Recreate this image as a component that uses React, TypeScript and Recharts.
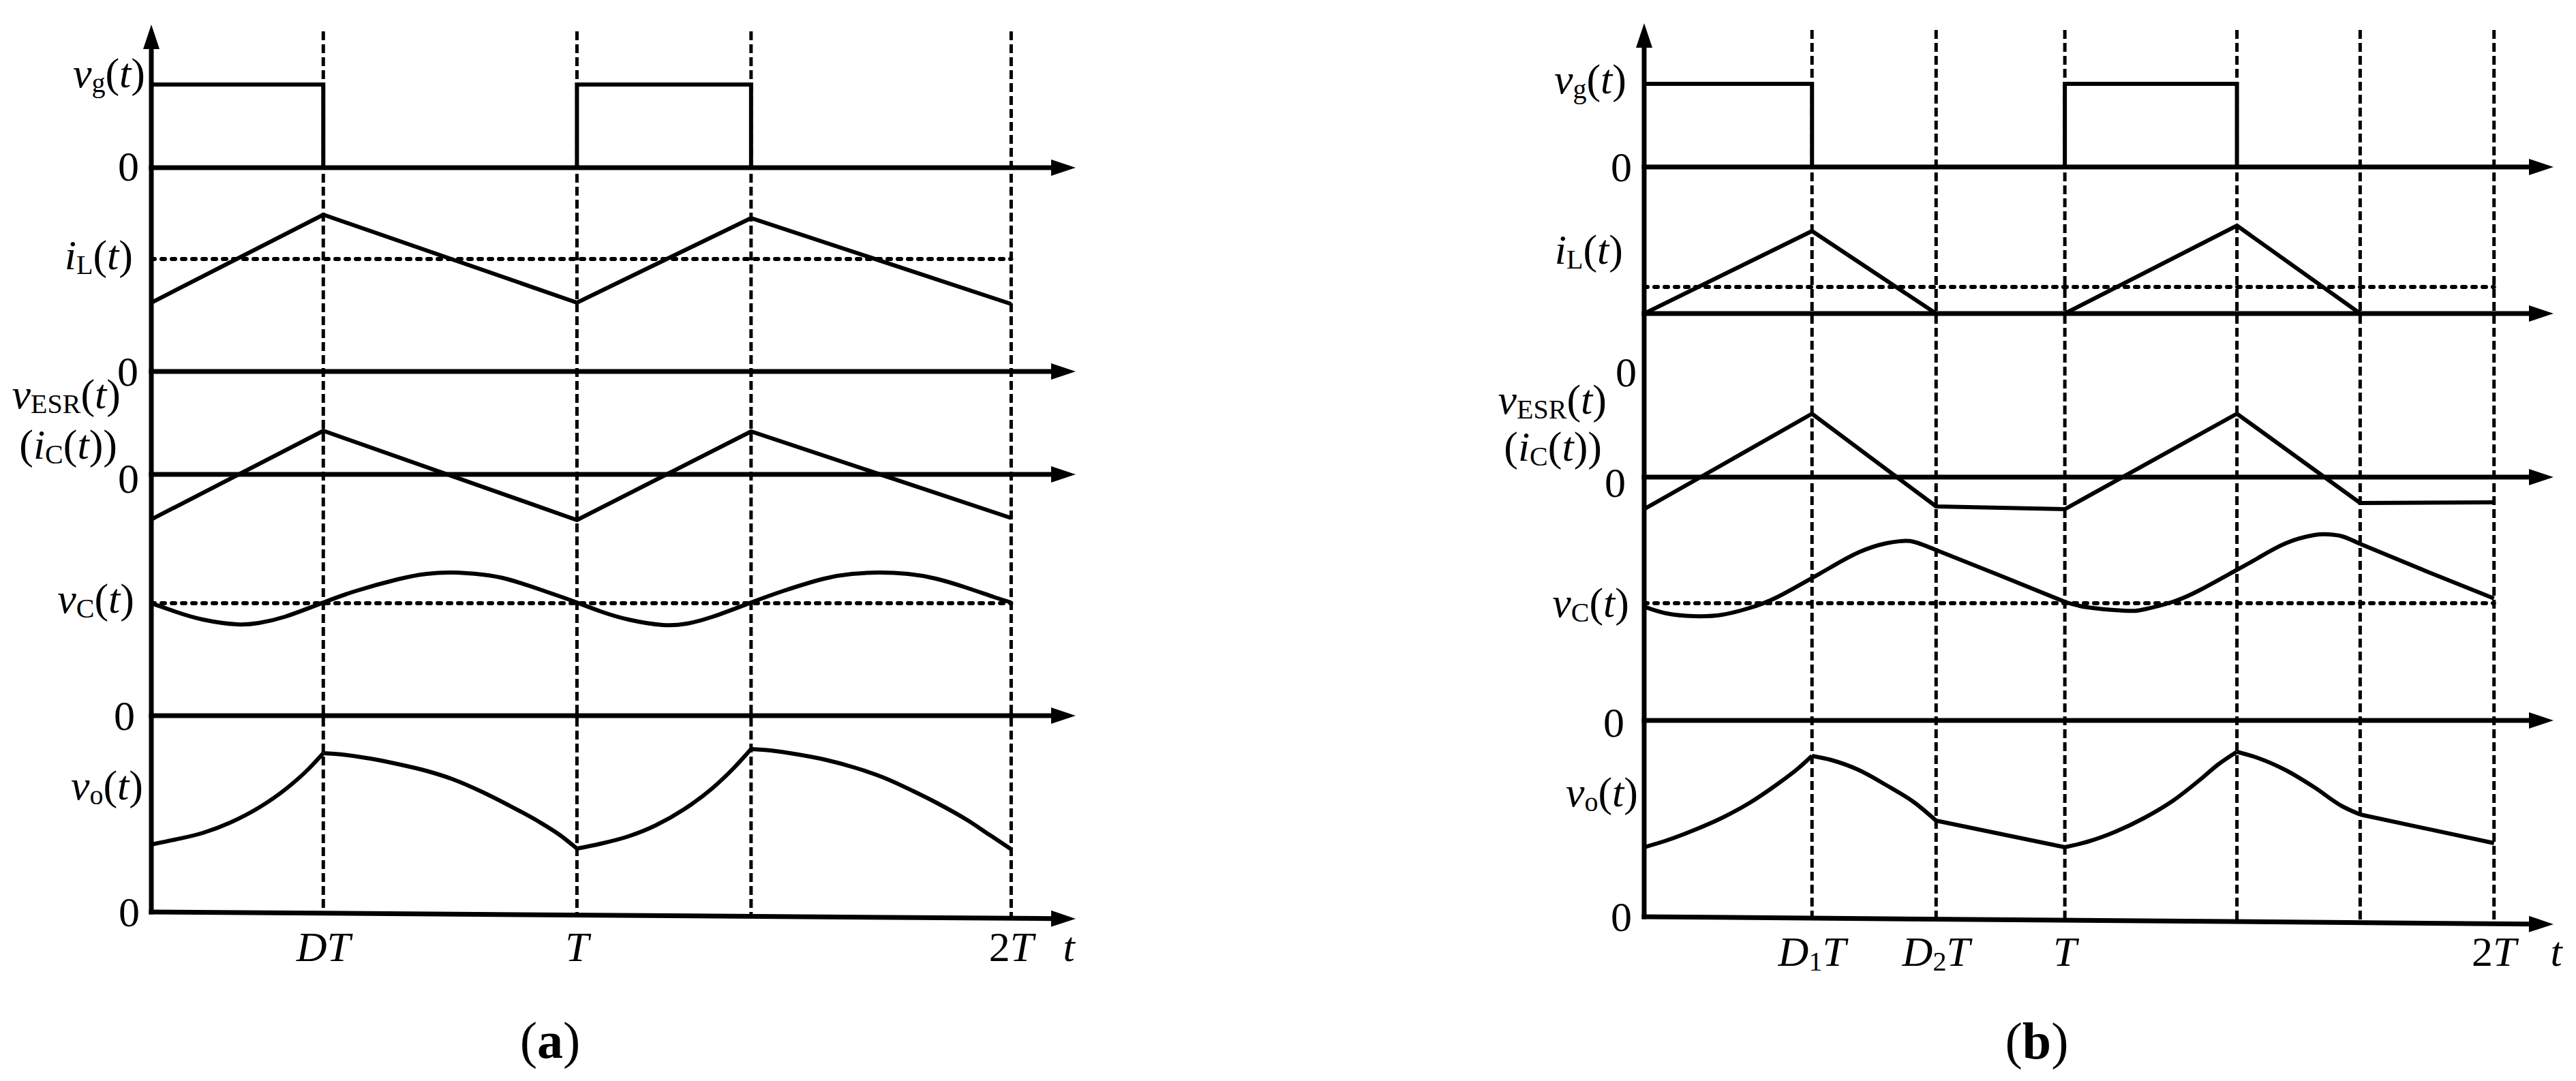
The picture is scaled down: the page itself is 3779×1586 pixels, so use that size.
import React from 'react';
import { ComposedChart, Line, XAxis, YAxis, ReferenceLine } from 'recharts';

type Pt = [number, number];

// time is in units of the switching period T; every waveform value is read
// from its own zero axis (1 unit = 100 px of the original drawing)

// ---------- (a) ----------
const timeTicksA = [0.4, 0.99, 2, 2.15];
const timeLabelsA = ['DT', 'T', '2T', 't'];
const edgesA = [0.4, 0.99, 1.395, 2];

const vgA: Pt[] = [[0, 1.22], [0.4, 1.22], [0.4, 0], [0.99, 0], [0.99, 1.22], [1.395, 1.22], [1.395, 0]];
const iLA: Pt[] = [[0, 1.01], [0.4, 2.3], [0.99, 1.01], [1.395, 2.25], [2, 0.99]];
const iLAvgA = 1.65;
const vEsrA: Pt[] = [[0, -0.66], [0.4, 0.64], [0.99, -0.67], [1.395, 0.63], [2, -0.64]];
const vCA: Pt[] = [
  [0, 1.65], [0.054, 1.53], [0.12, 1.41], [0.2, 1.34], [0.25, 1.36], [0.31, 1.45], [0.4, 1.66],
  [0.476, 1.83], [0.573, 2.0], [0.64, 2.08], [0.7, 2.1], [0.77, 2.07], [0.83, 2.0], [0.9, 1.86],
  [0.955, 1.74], [0.99, 1.66], [1.045, 1.53], [1.11, 1.41], [1.19, 1.33], [1.245, 1.35], [1.305, 1.45],
  [1.395, 1.66], [1.47, 1.83], [1.565, 2.01], [1.63, 2.08], [1.69, 2.1], [1.76, 2.08], [1.825, 2.01],
  [1.895, 1.88], [1.96, 1.74], [2, 1.66],
];
const vCAvgA = 1.65;
const voA: Pt[] = [
  [0, 0.99], [0.054, 1.06], [0.12, 1.16], [0.183, 1.31], [0.25, 1.53], [0.314, 1.81], [0.366, 2.1],
  [0.4, 2.33], [0.444, 2.31], [0.51, 2.25], [0.573, 2.17], [0.64, 2.07], [0.7, 1.95], [0.77, 1.76],
  [0.83, 1.57], [0.9, 1.33], [0.95, 1.13], [0.99, 0.93], [1.044, 1.0], [1.11, 1.11], [1.173, 1.27],
  [1.24, 1.51], [1.304, 1.81], [1.356, 2.12], [1.395, 2.39], [1.44, 2.37], [1.505, 2.31], [1.57, 2.23],
  [1.635, 2.12], [1.7, 1.98], [1.77, 1.78], [1.83, 1.59], [1.9, 1.34], [1.95, 1.13], [2, 0.92],
];

// ---------- (b) ----------
const timeTicksB = [0.395, 0.687, 0.99, 2, 2.14];
const timeLabelsB = ['D_{1}T', 'D_{2}T', 'T', '2T', 't'];
const edgesB = [0.395, 0.687, 0.99, 1.395, 1.685, 2];

const vgB: Pt[] = [[0, 1.22], [0.395, 1.22], [0.395, 0], [0.99, 0], [0.99, 1.22], [1.395, 1.22], [1.395, 0]];
const iLB: Pt[] = [[0, 0], [0.395, 1.21], [0.687, 0], [0.99, 0], [1.395, 1.29], [1.685, 0], [2, 0]];
const iLAvgB = 0.39;
const vEsrB: Pt[] = [[0, -0.47], [0.395, 0.93], [0.687, -0.43], [0.99, -0.47], [1.395, 0.93], [1.685, -0.38], [2, -0.37]];
const vCB: Pt[] = [
  [0, 1.67], [0.053, 1.57], [0.117, 1.53], [0.183, 1.55], [0.248, 1.65], [0.31, 1.8], [0.395, 2.09],
  [0.44, 2.25], [0.506, 2.47], [0.57, 2.6], [0.603, 2.63], [0.635, 2.62], [0.687, 2.5], [0.84, 2.12],
  [0.99, 1.74], [1.043, 1.66], [1.13, 1.61], [1.177, 1.63], [1.244, 1.74], [1.31, 1.92], [1.395, 2.21],
  [1.444, 2.38], [1.51, 2.6], [1.577, 2.72], [1.61, 2.73], [1.643, 2.7], [1.685, 2.59], [1.84, 2.19],
  [2, 1.79],
];
const vCAvgB = 1.72;
const voB: Pt[] = [
  [0, 1.02], [0.053, 1.12], [0.117, 1.27], [0.183, 1.45], [0.248, 1.67], [0.31, 1.93], [0.363, 2.18],
  [0.395, 2.36], [0.44, 2.3], [0.506, 2.15], [0.57, 1.93], [0.635, 1.68], [0.687, 1.41], [0.99, 1.02],
  [1.043, 1.1], [1.11, 1.25], [1.177, 1.45], [1.244, 1.7], [1.31, 2.02], [1.35, 2.23], [1.395, 2.42],
  [1.444, 2.33], [1.51, 2.15], [1.577, 1.9], [1.643, 1.62], [1.685, 1.5], [2, 1.08],
];

const avgSpan = [0, 2];

const names = {
  zero: '0',
  vg: 'v_{g}(t)',
  iL: 'i_{L}(t)',
  vEsr: 'v_{ESR}(t)',
  iC: '(i_{C}(t))',
  vC: 'v_{C}(t)',
  vo: 'v_{o}(t)',
};

// ---------- drawing ----------
const INK = '#000';
const FONT = '"Liberation Serif", "Times New Roman", Times, serif';
const FS = 62;
const SUB_FS = 40;
const SUB_SHIFT = 7;
const UNIT = 100;
const H = 1586;
const XAXIS_H = 100;
const ARROW_L = 36;
const ARROW_HW = 12;
const AXIS_W = 7;
const TRACE_W = 6;

type Curve = 'linear' | 'monotone' | 'natural';

interface LabelPos { text: string; dx: number; dy: number }
interface TraceCfg {
  id: string;
  zero: number;
  pts: Pt[];
  curve: Curve;
  kinks?: number[];
  avg?: number;
  drop?: number;
  labels: LabelPos[];
}
interface PanelCfg {
  left: number;
  width: number;
  plotLeft: number;
  plotRight: number;
  plotTop: number;
  plotBottom: number;
  dashTop: number;
  tEnd: number;
  ticks: number[];
  tickLabels: string[];
  tDx: number;
  edges: number[];
  caption: string;
  captionX: number;
  captionY: number;
  traces: TraceCfg[];
}

function parseMarkup(s: string) {
  const out: { text: string; italic: boolean; sub: boolean }[] = [];
  let i = 0;
  while (i < s.length) {
    if (s[i] === '_' && s[i + 1] === '{') {
      const j = s.indexOf('}', i);
      out.push({ text: s.slice(i + 2, j), italic: false, sub: true });
      i = j + 1;
    } else {
      out.push({ text: s[i], italic: /[A-Za-z]/.test(s[i]), sub: false });
      i++;
    }
  }
  return out;
}

function Rich({ x, y, markup, anchor }: { x: number; y: number; markup: string; anchor: 'start' | 'middle' | 'end' }) {
  const parts = parseMarkup(markup);
  let low = false;
  return (
    <text x={x} y={y} textAnchor={anchor} fontFamily={FONT} fontSize={FS} fill={INK}>
      {parts.map((p, i) => {
        let dy: number | undefined;
        if (p.sub && !low) {
          dy = SUB_SHIFT;
          low = true;
        } else if (!p.sub && low) {
          dy = -SUB_SHIFT;
          low = false;
        }
        return (
          <tspan key={i} dy={dy} fontStyle={p.italic ? 'italic' : 'normal'} fontSize={p.sub ? SUB_FS : FS}>
            {p.text}
          </tspan>
        );
      })}
    </text>
  );
}

function arrow(x1: number, y1: number, x2: number, y2: number, back = 0) {
  const a = Math.atan2(y2 - y1, x2 - x1);
  const c = Math.cos(a);
  const s = Math.sin(a);
  const bx = x2 - ARROW_L * c;
  const by = y2 - ARROW_L * s;
  return (
    <g>
      <line x1={x1 - back * c} y1={y1 - back * s} x2={bx + 2 * c} y2={by + 2 * s} stroke={INK} strokeWidth={AXIS_W} />
      <polygon
        points={`${x2},${y2} ${bx - ARROW_HW * s},${by + ARROW_HW * c} ${bx + ARROW_HW * s},${by - ARROW_HW * c}`}
        fill={INK}
      />
    </g>
  );
}

const HArrow = (p: any) =>
  p.x1 <= p.x2 ? arrow(p.x1, p.y1, p.x2, p.y2, AXIS_W / 2) : arrow(p.x2, p.y2, p.x1, p.y1, AXIS_W / 2);

const VArrow = (p: any) => {
  const bottom = Math.max(p.y1, p.y2);
  const top = Math.min(p.y1, p.y2);
  return arrow(p.x1, bottom, p.x1, top, AXIS_W / 2);
};

const makeDash = (top: number, bottom: number, drop: number, tEnd: number, t: number) => (p: any) => (
  <line
    x1={p.x1}
    x2={p.x1}
    y1={top}
    y2={bottom + (drop * UNIT * t) / tEnd + 2}
    stroke={INK}
    strokeWidth={5}
    strokeDasharray="13 6"
  />
);

const makeSignalTick = (labels: LabelPos[], xLeft: number) => (props: any) => (
  <g>
    {labels.map((l, i) => (
      <Rich
        key={i}
        x={xLeft + l.dx}
        y={props.y + l.dy + (/[()]/.test(l.text) ? 0.235 : 0.338) * FS}
        markup={l.text}
        anchor="end"
      />
    ))}
  </g>
);

const makeTimeTick = (ticks: number[], labels: string[], tDx: number) => (props: any) => {
  const v = props.payload.value;
  const i = ticks.findIndex((k) => Math.abs(k - v) < 1e-9);
  if (i < 0) return <g />;
  const last = i === ticks.length - 1;
  return <Rich x={props.x + (last ? tDx : 0)} y={props.y + 72} markup={labels[i]} anchor="middle" />;
};

const makeCaption = (letter: string, x: number, y: number) => () => (
  <text x={x} y={y} textAnchor="middle" fontFamily={FONT} fontSize={76} fill={INK}>
    <tspan>(</tspan>
    <tspan fontWeight="bold">{letter}</tspan>
    <tspan>)</tspan>
  </text>
);

const rows = (pts: Pt[]) => pts.map(([t, v]) => ({ t, v }));

// cut a waveform at its corners so each smooth piece is interpolated on its own
function splitAt(pts: Pt[], kinks: number[]): Pt[][] {
  const segs: Pt[][] = [];
  let cur: Pt[] = [];
  pts.forEach((p, i) => {
    cur.push(p);
    if (i > 0 && i < pts.length - 1 && kinks.some((k) => Math.abs(k - p[0]) < 1e-9)) {
      segs.push(cur);
      cur = [p];
    }
  });
  segs.push(cur);
  return segs;
}

function Panel({ cfg }: { cfg: PanelCfg }) {
  const localPlotLeft = cfg.plotLeft - cfg.left;
  const margin = {
    top: cfg.plotTop,
    left: localPlotLeft - cfg.traces.length,
    right: cfg.left + cfg.width - cfg.plotRight,
    bottom: H - cfg.plotBottom - XAXIS_H,
  };
  const first = cfg.traces[0].id;
  const bottomDrop = cfg.traces[cfg.traces.length - 1].drop ?? 0;
  return (
    <div style={{ position: 'absolute', left: cfg.left, top: 0 }}>
      <ComposedChart width={cfg.width} height={H} margin={margin}>
        <XAxis
          type="number"
          dataKey="t"
          domain={[0, cfg.tEnd]}
          allowDataOverflow
          ticks={cfg.ticks}
          interval={0}
          axisLine={false}
          tickLine={false}
          tickSize={0}
          tickMargin={0}
          height={XAXIS_H}
          tick={makeTimeTick(cfg.ticks, cfg.tickLabels, cfg.tDx)}
          label={{ content: makeCaption(cfg.caption, cfg.captionX - cfg.left, cfg.captionY) }}
        />
        {cfg.traces.map((tr) => (
          <YAxis
            key={tr.id}
            yAxisId={tr.id}
            type="number"
            domain={[-(cfg.plotBottom - tr.zero) / UNIT, (tr.zero - cfg.plotTop) / UNIT]}
            ticks={[0]}
            interval={0}
            width={1}
            axisLine={false}
            tickLine={false}
            tickSize={0}
            tickMargin={0}
            tick={makeSignalTick(tr.labels, localPlotLeft)}
          />
        ))}

        {cfg.edges.map((e) => (
          <ReferenceLine
            key={`edge-${e}`}
            x={e}
            yAxisId={first}
            ifOverflow="visible"
            shape={makeDash(cfg.dashTop, cfg.plotBottom, bottomDrop, cfg.tEnd, e)}
          />
        ))}

        <ReferenceLine x={0} yAxisId={first} ifOverflow="visible" shape={VArrow} />
        {cfg.traces.map((tr) => (
          <ReferenceLine
            key={`axis-${tr.id}`}
            yAxisId={tr.id}
            ifOverflow="visible"
            segment={[
              { x: 0, y: 0 },
              { x: cfg.tEnd, y: -(tr.drop ?? 0) },
            ]}
            shape={HArrow}
          />
        ))}

        {cfg.traces
          .filter((tr) => tr.avg !== undefined)
          .map((tr) => (
            <Line
              key={`avg-${tr.id}`}
              yAxisId={tr.id}
              data={avgSpan.map((t) => ({ t, v: tr.avg }))}
              dataKey="v"
              type="linear"
              stroke={INK}
              strokeWidth={6}
              strokeDasharray="5 10"
              strokeLinecap="round"
              dot={false}
              activeDot={false}
              isAnimationActive={false}
            />
          ))}

        {cfg.traces.flatMap((tr) =>
          splitAt(tr.pts, tr.kinks ?? []).map((seg, k) => (
            <Line
              key={`trace-${tr.id}-${k}`}
              yAxisId={tr.id}
              data={rows(seg)}
              dataKey="v"
              type={seg.length > 2 ? tr.curve : 'linear'}
              stroke={INK}
              strokeWidth={TRACE_W}
              strokeLinejoin="miter"
              dot={false}
              activeDot={false}
              isAnimationActive={false}
            />
          )),
        )}
      </ComposedChart>
    </div>
  );
}

const panelA: PanelCfg = {
  left: 0,
  width: 1890,
  plotLeft: 222,
  plotRight: 1578,
  plotTop: 36,
  plotBottom: 1338,
  dashTop: 46,
  tEnd: 2.15,
  ticks: timeTicksA,
  tickLabels: timeLabelsA,
  tDx: -10,
  edges: edgesA,
  caption: 'a',
  captionX: 807,
  captionY: 1552,
  traces: [
    { id: 'vg', zero: 246, pts: vgA, curve: 'linear', labels: [{ text: names.zero, dx: -18, dy: -2 }, { text: names.vg, dx: -9, dy: -133 }] },
    { id: 'iL', zero: 545, pts: iLA, curve: 'linear', avg: iLAvgA, labels: [{ text: names.zero, dx: -19, dy: 0 }, { text: names.iL, dx: -27, dy: -165 }] },
    {
      id: 'vEsr',
      zero: 696,
      pts: vEsrA,
      curve: 'linear',
      labels: [
        { text: names.zero, dx: -18, dy: 6 },
        { text: names.vEsr, dx: -45, dy: -112 },
        { text: names.iC, dx: -50, dy: -38 },
      ],
    },
    { id: 'vC', zero: 1050, pts: vCA, curve: 'natural', avg: vCAvgA, labels: [{ text: names.zero, dx: -24, dy: 0 }, { text: names.vC, dx: -25, dy: -166 }] },
    {
      id: 'vo',
      zero: 1338,
      pts: voA,
      curve: 'monotone',
      kinks: edgesA,
      drop: 0.1,
      labels: [{ text: names.zero, dx: -17, dy: 0 }, { text: names.vo, dx: -12, dy: -180 }],
    },
  ],
};

const panelB: PanelCfg = {
  left: 1890,
  width: 1889,
  plotLeft: 2412,
  plotRight: 3746,
  plotTop: 34,
  plotBottom: 1345,
  dashTop: 44,
  tEnd: 2.14,
  ticks: timeTicksB,
  tickLabels: timeLabelsB,
  tDx: 4,
  edges: edgesB,
  caption: 'b',
  captionX: 2988,
  captionY: 1553,
  traces: [
    { id: 'vg', zero: 245, pts: vgB, curve: 'linear', labels: [{ text: names.zero, dx: -18, dy: 0 }, { text: names.vg, dx: -26, dy: -123 }] },
    { id: 'iL', zero: 460, pts: iLB, curve: 'linear', avg: iLAvgB, labels: [{ text: names.iL, dx: -31, dy: -88 }] },
    {
      id: 'vEsr',
      zero: 700,
      pts: vEsrB,
      curve: 'linear',
      labels: [
        { text: names.zero, dx: -11, dy: -154 },
        { text: names.vEsr, dx: -55, dy: -108 },
        { text: names.iC, dx: -62, dy: -39 },
        { text: names.zero, dx: -27, dy: 8 },
      ],
    },
    {
      id: 'vC',
      zero: 1057,
      pts: vCB,
      curve: 'natural',
      kinks: [0.687, 0.99, 1.685],
      avg: vCAvgB,
      labels: [{ text: names.zero, dx: -29, dy: 3 }, { text: names.vC, dx: -22, dy: -167 }],
    },
    {
      id: 'vo',
      zero: 1345,
      pts: voB,
      curve: 'monotone',
      kinks: edgesB,
      drop: 0.11,
      labels: [{ text: names.zero, dx: -18, dy: 0 }, { text: names.vo, dx: -9, dy: -177 }],
    },
  ],
};

export default function App() {
  return (
    <div style={{ position: 'absolute', left: 0, top: 0, width: 3779, height: H, background: '#fff' }}>
      <Panel cfg={panelA} />
      <Panel cfg={panelB} />
    </div>
  );
}
